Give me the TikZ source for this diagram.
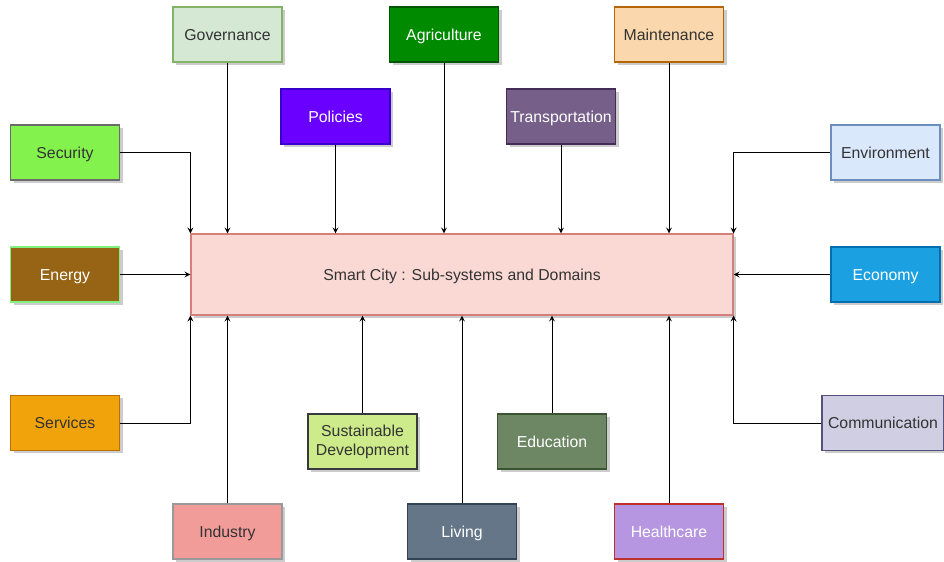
\documentclass[tikz,border=0pt]{standalone}
\usepackage[dvipsnames]{xcolor}
\usepackage{fontspec}
\setmainfont{Liberation Sans}
\usetikzlibrary{arrows,shapes,shadows}

\definecolor{txtdark}{HTML}{333333}
\definecolor{cityfill}{HTML}{FAD9D5}
\definecolor{citydraw}{HTML}{D4807A}
\definecolor{govfill}{HTML}{D5E8D4}
\definecolor{govdraw}{HTML}{82B366}
\definecolor{agrifill}{HTML}{008A00}
\definecolor{agridraw}{HTML}{005700}
\definecolor{maintfill}{HTML}{FAD7AC}
\definecolor{maintdraw}{HTML}{B46504}
\definecolor{polfill}{HTML}{6A00FF}
\definecolor{poldraw}{HTML}{3700CC}
\definecolor{transfill}{HTML}{76608A}
\definecolor{transdraw}{HTML}{432D57}
\definecolor{secfill}{HTML}{84F24C}
\definecolor{secdraw}{HTML}{6B6B6B}
\definecolor{envfill}{HTML}{DAE8FC}
\definecolor{envdraw}{HTML}{6C8EBF}
\definecolor{enfill}{HTML}{966414}
\definecolor{endraw}{HTML}{80F080}
\definecolor{ecofill}{HTML}{1BA1E2}
\definecolor{ecodraw}{HTML}{006EAF}
\definecolor{servfill}{HTML}{F0A30A}
\definecolor{servdraw}{HTML}{BD7000}
\definecolor{commfill}{HTML}{D0CEE2}
\definecolor{commdraw}{HTML}{56517E}
\definecolor{susfill}{HTML}{CDEB8B}
\definecolor{susdraw}{HTML}{36393D}
\definecolor{edufill}{HTML}{6D8764}
\definecolor{edudraw}{HTML}{3A5431}
\definecolor{indfill}{HTML}{F19C99}
\definecolor{inddraw}{HTML}{999999}
\definecolor{livfill}{HTML}{647687}
\definecolor{livdraw}{HTML}{314354}
\definecolor{healfill}{HTML}{B696E0}
\definecolor{healdraw}{HTML}{C0302B}

\begin{document}
\begin{tikzpicture}[shape=rectangle,>=stealth,
box/.style={draw, line width=0.6pt, minimum width=2.18cm, minimum height=1.1cm,
inner sep=1pt, align=center, text=txtdark, text height=1.7ex, text depth=0.45ex,
font=\fontsize{9}{10.8}\selectfont,
drop shadow={shadow xshift=0.06cm, shadow yshift=-0.06cm, fill=black!20, opacity=1}},
link/.style={->, line width=0.5pt}]
\useasboundingbox (0,0) rectangle (18.88,-11.24);

\node (city) [box, fill=cityfill, draw=citydraw, minimum width=10.84cm,
minimum height=1.62cm] at (9.24,-5.49)
{Smart City : Sub-systems and Domains};

% left and right columns
\node (energy) [box, fill=enfill, draw=endraw, text=white, node distance=7.94cm,
left of=city] {Energy};
\node (security) [box, fill=secfill, draw=secdraw, node distance=2.44cm,
above of=energy] {Security};
\node (services) [box, fill=servfill, draw=servdraw, node distance=2.97cm,
below of=energy] {Services};
\node (economy) [box, fill=ecofill, draw=ecodraw, text=white, node distance=8.47cm,
right of=city] {Economy};
\node (environment) [box, fill=envfill, draw=envdraw, node distance=2.44cm,
above of=economy] {Environment};
\node (communication) [box, fill=commfill, draw=commdraw, minimum width=2.44cm,
node distance=2.97cm, below of=economy, xshift=-0.05cm] {Communication};

% top rows
\node (governance) [box, fill=govfill, draw=govdraw, node distance=4.8cm,
above of=city, xshift=-4.69cm] {Governance};
\node (agriculture) [box, fill=agrifill, draw=agridraw, text=white,
node distance=4.33cm, right of=governance] {Agriculture};
\node (maintenance) [box, fill=maintfill, draw=maintdraw, node distance=4.5cm,
right of=agriculture] {Maintenance};
\node (policies) [box, fill=polfill, draw=poldraw, text=white, node distance=3.16cm,
above of=city, xshift=-2.53cm] {Policies};
\node (transport) [box, fill=transfill, draw=transdraw, text=white,
node distance=4.51cm, right of=policies] {Transportation};

% bottom rows
\node (sustain) [box, fill=susfill, draw=susdraw, text height=, text depth=,
node distance=3.34cm, below of=city, xshift=-1.99cm] {Sustainable\\Development};
\node (education) [box, fill=edufill, draw=edudraw, text=white,
node distance=3.79cm, right of=sustain] {Education};
\node (industry) [box, fill=indfill, draw=inddraw, node distance=5.14cm,
below of=city, xshift=-4.69cm] {Industry};
\node (living) [box, fill=livfill, draw=livdraw, text=white, node distance=4.69cm,
right of=industry] {Living};
\node (healthcare) [box, fill=healfill, draw=healdraw, text=white,
node distance=4.14cm, right of=living] {Healthcare};

\draw[link] (energy) -- (city);
\draw[link] (economy) -- (city);
\draw[link] (security.east) -| (city.north west);
\draw[link] (services.east) -| (city.south west);
\draw[link] (environment.west) -| (city.north east);
\draw[link] (communication.west) -| (city.south east);
\foreach \n in {governance,agriculture,maintenance,policies,transport}
  \draw[link] (\n.south) -- (\n.south |- city.north);
\foreach \n in {sustain,education,industry,living,healthcare}
  \draw[link] (\n.north) -- (\n.north |- city.south);
\end{tikzpicture}
\end{document}
